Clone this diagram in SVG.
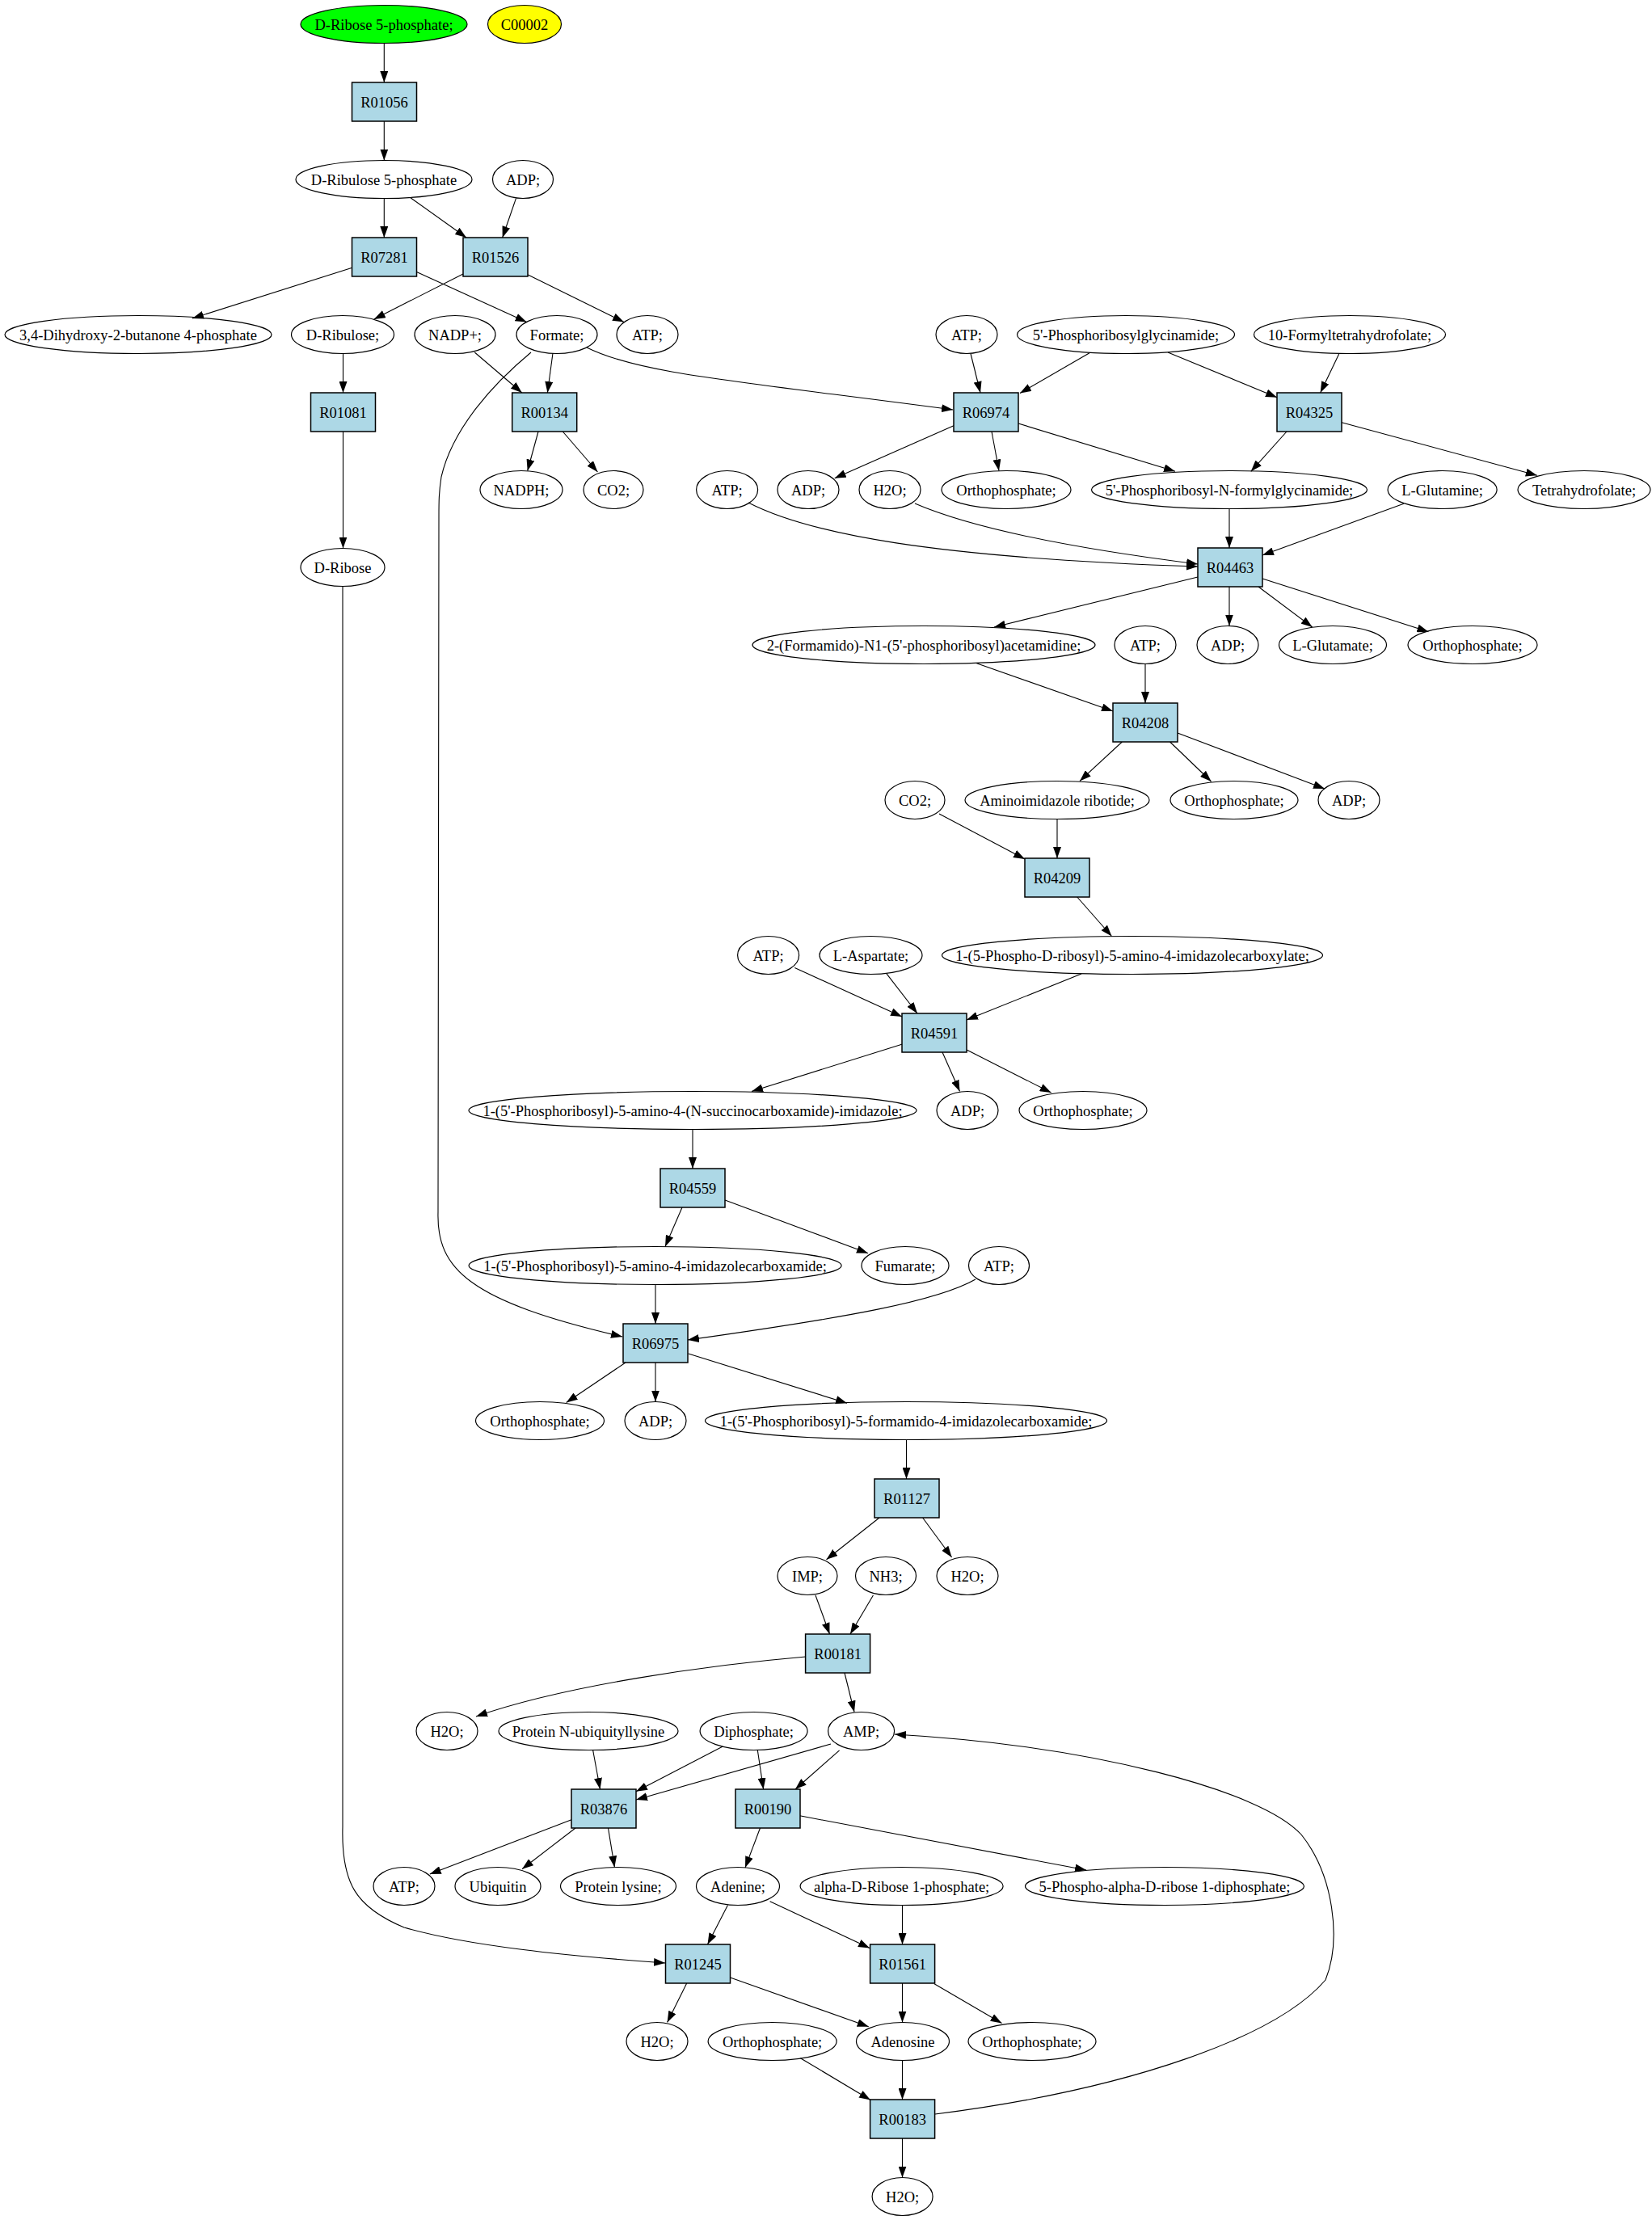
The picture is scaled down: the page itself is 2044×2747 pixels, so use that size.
<svg xmlns="http://www.w3.org/2000/svg" width="2044" height="2747" viewBox="0 0 2044 2747">
<style>
.e{fill:none;stroke:#000;stroke-width:1.2}
.r{fill:#add8e6;stroke:#000;stroke-width:1.5}
.t{font-family:"Liberation Serif","Times New Roman",serif;font-size:18.5px;text-anchor:middle;fill:#000}
.c path{fill:none;stroke:#000;stroke-width:1.1;marker-end:url(#ah)}
</style>
<defs>
<marker id="ah" markerUnits="userSpaceOnUse" markerWidth="14" markerHeight="10" viewBox="0 0 14 10" refX="14" refY="5" orient="auto">
<path d="M0,0 L14,5 L0,10 z" fill="#000"/>
</marker>
</defs>
<rect width="2044" height="2747" fill="#fff"/>
<g class="c" id="connectors">
<path d="M475.3,53.5 L475.3,102"/>
<path d="M475.3,150 L475.3,198.5"/>
<path d="M475.3,245.5 L475.3,294"/>
<path d="M508,244.7 L577,294"/>
<path d="M638.4,245.6 L621.7,294"/>
<path d="M435,331.5 L238,394"/>
<path d="M515.5,336.5 L651.6,398.5"/>
<path d="M573,339 L462.7,395"/>
<path d="M652.7,339.8 L772,398.5"/>
<path d="M424.5,437.5 L424.5,486"/>
<path d="M424.5,534 L424.5,678.5"/>
<path d="M587.3,436 L645.8,486"/>
<path d="M684,437 L677.4,486"/>
<path d="M726,430 C790,462 900,470 1179,507"/>
<path d="M657,436 C610,475 560,530 546,590 C543,610 543,620 543,640 L542,1500 C540,1570 580,1610 770,1654"/>
<path d="M666,534 L652.7,582.5"/>
<path d="M696.3,534 L739.4,584"/>
<path d="M1201,437.5 L1213,486"/>
<path d="M1348,436.7 L1262,486.5"/>
<path d="M1445,436 L1580,491.7"/>
<path d="M1656.7,438 L1633.7,486"/>
<path d="M1180,526.7 L1032.7,591.7"/>
<path d="M1227,534 L1236,582.5"/>
<path d="M1260,524 L1454,583.3"/>
<path d="M1592,534 L1547.8,583.3"/>
<path d="M1660,522.7 L1901.8,588.3"/>
<path d="M926,622 C1000,660 1150,690 1482,701"/>
<path d="M1132,623 C1190,648 1300,675 1482,698"/>
<path d="M1521,629.5 L1521,678"/>
<path d="M1736.8,623.3 L1562,687"/>
<path d="M1482,714 L1230,776"/>
<path d="M1521,726 L1521,774.5"/>
<path d="M1557,726 L1623.7,776"/>
<path d="M1562,716 L1767.4,781.7"/>
<path d="M1208.4,820.7 L1377,880"/>
<path d="M1417,821.5 L1417,870"/>
<path d="M1388.3,918 L1336,966.4"/>
<path d="M1447.6,918 L1498.6,967"/>
<path d="M1457,907 L1639,976"/>
<path d="M1162,1007 L1268,1063"/>
<path d="M1308,1013.5 L1308,1062"/>
<path d="M1332.8,1110 L1375.5,1158.5"/>
<path d="M983.3,1197.5 L1116,1258"/>
<path d="M1096.8,1204.6 L1135,1254"/>
<path d="M1338,1205 L1196,1262"/>
<path d="M1116.6,1292 L930,1350.5"/>
<path d="M1166,1302 L1187.5,1350.5"/>
<path d="M1196,1299 L1300.6,1352"/>
<path d="M857,1397.5 L857,1446"/>
<path d="M844,1494 L823,1542.5"/>
<path d="M897,1485 L1074,1550.7"/>
<path d="M811,1589.5 L811,1638"/>
<path d="M1207,1583 C1160,1610 1050,1630 851,1658"/>
<path d="M774,1686 L700.7,1735.5"/>
<path d="M811,1686 L811,1734.5"/>
<path d="M851.7,1675 L1048,1736.3"/>
<path d="M1121.5,1781.5 L1121.5,1830"/>
<path d="M1088,1878 L1022.5,1929.7"/>
<path d="M1141.6,1878 L1177.6,1927"/>
<path d="M1009,1974 L1026.5,2022"/>
<path d="M1080.4,1974 L1052,2022"/>
<path d="M997,2050 C880,2060 700,2085 589,2124"/>
<path d="M1045,2070 L1057,2118.5"/>
<path d="M733.6,2165.5 L742.5,2214"/>
<path d="M894.3,2161 L787,2216.7"/>
<path d="M1028,2158 L787,2227"/>
<path d="M937.3,2165.5 L944.6,2214"/>
<path d="M1038.6,2165.8 L984,2214"/>
<path d="M707,2251.7 L531.8,2319"/>
<path d="M712,2262 L646,2312.7"/>
<path d="M752.5,2262 L760.4,2310.5"/>
<path d="M940.5,2262 L922,2311"/>
<path d="M989.6,2246.8 L1344,2314"/>
<path d="M900.4,2357.5 L875.5,2406"/>
<path d="M952.6,2352.7 L1076,2410.5"/>
<path d="M1116.5,2357.5 L1116.5,2406"/>
<path d="M424,725.5 L424,2260 C422,2330 440,2360 500,2385 C580,2408 700,2420 823,2429"/>
<path d="M849.7,2454 L825.6,2502.5"/>
<path d="M902.8,2446.7 L1074.7,2507.8"/>
<path d="M1116.5,2454 L1116.5,2502.5"/>
<path d="M1156,2454.8 L1239.5,2503.5"/>
<path d="M990.4,2546.7 L1077,2598.5"/>
<path d="M1116.5,2549.5 L1116.5,2598"/>
<path d="M1116.5,2646 L1116.5,2694.5"/>
<path d="M1157,2616 C1400,2585 1580,2520 1640,2450 C1660,2400 1650,2320 1610,2270 C1560,2215 1350,2160 1107,2146"/>
</g>
<g id="n_rib5p"><ellipse cx="475" cy="30" rx="103" ry="23.5" fill="#00ff00" stroke="#000" stroke-width="1.2"/><text class="t" x="475" y="36.5">D-Ribose 5-phosphate;</text></g>
<g id="n_c00002"><ellipse cx="649" cy="30" rx="45.5" ry="23.5" fill="#ffff00" stroke="#000" stroke-width="1.2"/><text class="t" x="649" y="36.5">C00002</text></g>
<g id="R01056"><rect class="r" x="435.5" y="102" width="80" height="48"/><text class="t" x="475.5" y="132.5">R01056</text></g>
<g id="n_ru5p"><ellipse class="e" cx="475" cy="222" rx="109" ry="23.5"/><text class="t" x="475" y="228.5">D-Ribulose 5-phosphate</text></g>
<g id="n_adp1"><ellipse class="e" cx="647" cy="222" rx="37.5" ry="23.5"/><text class="t" x="647" y="228.5">ADP;</text></g>
<g id="R07281"><rect class="r" x="435.5" y="294" width="80" height="48"/><text class="t" x="475.5" y="324.5">R07281</text></g>
<g id="R01526"><rect class="r" x="573" y="294" width="80" height="48"/><text class="t" x="613" y="324.5">R01526</text></g>
<g id="n_dhbp"><ellipse class="e" cx="171" cy="414" rx="165" ry="23.5"/><text class="t" x="171" y="420.5">3,4-Dihydroxy-2-butanone 4-phosphate</text></g>
<g id="n_ribulose"><ellipse class="e" cx="424" cy="414" rx="63.5" ry="23.5"/><text class="t" x="424" y="420.5">D-Ribulose;</text></g>
<g id="n_nadp"><ellipse class="e" cx="563" cy="414" rx="50" ry="23.5"/><text class="t" x="563" y="420.5">NADP+;</text></g>
<g id="n_formate"><ellipse class="e" cx="689" cy="414" rx="50" ry="23.5"/><text class="t" x="689" y="420.5">Formate;</text></g>
<g id="n_atp1"><ellipse class="e" cx="801" cy="414" rx="38" ry="23.5"/><text class="t" x="801" y="420.5">ATP;</text></g>
<g id="n_atp2"><ellipse class="e" cx="1196" cy="414" rx="38" ry="23.5"/><text class="t" x="1196" y="420.5">ATP;</text></g>
<g id="n_gar"><ellipse class="e" cx="1393" cy="414" rx="134.5" ry="23.5"/><text class="t" x="1393" y="420.5">5'-Phosphoribosylglycinamide;</text></g>
<g id="n_10fthf"><ellipse class="e" cx="1670" cy="414" rx="118.5" ry="23.5"/><text class="t" x="1670" y="420.5">10-Formyltetrahydrofolate;</text></g>
<g id="R01081"><rect class="r" x="384.5" y="486" width="80" height="48"/><text class="t" x="424.5" y="516.5">R01081</text></g>
<g id="R00134"><rect class="r" x="633.7" y="486" width="80" height="48"/><text class="t" x="673.7" y="516.5">R00134</text></g>
<g id="R06974"><rect class="r" x="1180" y="486" width="80" height="48"/><text class="t" x="1220" y="516.5">R06974</text></g>
<g id="R04325"><rect class="r" x="1580" y="486" width="80" height="48"/><text class="t" x="1620" y="516.5">R04325</text></g>
<g id="n_nadph"><ellipse class="e" cx="645" cy="606" rx="51" ry="23.5"/><text class="t" x="645" y="612.5">NADPH;</text></g>
<g id="n_co2a"><ellipse class="e" cx="759" cy="606" rx="37" ry="23.5"/><text class="t" x="759" y="612.5">CO2;</text></g>
<g id="n_atp3"><ellipse class="e" cx="899.6" cy="606" rx="38" ry="23.5"/><text class="t" x="899.6" y="612.5">ATP;</text></g>
<g id="n_adp2"><ellipse class="e" cx="1000" cy="606" rx="38" ry="23.5"/><text class="t" x="1000" y="612.5">ADP;</text></g>
<g id="n_h2o1"><ellipse class="e" cx="1101" cy="606" rx="38" ry="23.5"/><text class="t" x="1101" y="612.5">H2O;</text></g>
<g id="n_pi1"><ellipse class="e" cx="1245" cy="606" rx="80" ry="23.5"/><text class="t" x="1245" y="612.5">Orthophosphate;</text></g>
<g id="n_fgar"><ellipse class="e" cx="1521" cy="606" rx="170.5" ry="23.5"/><text class="t" x="1521" y="612.5">5'-Phosphoribosyl-N-formylglycinamide;</text></g>
<g id="n_gln"><ellipse class="e" cx="1784.6" cy="606" rx="67.5" ry="23.5"/><text class="t" x="1784.6" y="612.5">L-Glutamine;</text></g>
<g id="n_thf"><ellipse class="e" cx="1960" cy="606" rx="82" ry="23.5"/><text class="t" x="1960" y="612.5">Tetrahydrofolate;</text></g>
<g id="n_ribose"><ellipse class="e" cx="424" cy="702" rx="52" ry="23.5"/><text class="t" x="424" y="708.5">D-Ribose</text></g>
<g id="R04463"><rect class="r" x="1482" y="678" width="80" height="48"/><text class="t" x="1522" y="708.5">R04463</text></g>
<g id="n_fgam"><ellipse class="e" cx="1143" cy="798" rx="212" ry="23.5"/><text class="t" x="1143" y="804.5">2-(Formamido)-N1-(5'-phosphoribosyl)acetamidine;</text></g>
<g id="n_atp4"><ellipse class="e" cx="1417" cy="798" rx="38" ry="23.5"/><text class="t" x="1417" y="804.5">ATP;</text></g>
<g id="n_adp3"><ellipse class="e" cx="1519" cy="798" rx="38" ry="23.5"/><text class="t" x="1519" y="804.5">ADP;</text></g>
<g id="n_glu"><ellipse class="e" cx="1649" cy="798" rx="66.5" ry="23.5"/><text class="t" x="1649" y="804.5">L-Glutamate;</text></g>
<g id="n_pi2"><ellipse class="e" cx="1822" cy="798" rx="80" ry="23.5"/><text class="t" x="1822" y="804.5">Orthophosphate;</text></g>
<g id="R04208"><rect class="r" x="1377" y="870" width="80" height="48"/><text class="t" x="1417" y="900.5">R04208</text></g>
<g id="n_co2b"><ellipse class="e" cx="1132" cy="990" rx="37" ry="23.5"/><text class="t" x="1132" y="996.5">CO2;</text></g>
<g id="n_air"><ellipse class="e" cx="1308" cy="990" rx="114" ry="23.5"/><text class="t" x="1308" y="996.5">Aminoimidazole ribotide;</text></g>
<g id="n_pi3"><ellipse class="e" cx="1527" cy="990" rx="79" ry="23.5"/><text class="t" x="1527" y="996.5">Orthophosphate;</text></g>
<g id="n_adp4"><ellipse class="e" cx="1669" cy="990" rx="38" ry="23.5"/><text class="t" x="1669" y="996.5">ADP;</text></g>
<g id="R04209"><rect class="r" x="1268" y="1062" width="80" height="48"/><text class="t" x="1308" y="1092.5">R04209</text></g>
<g id="n_atp5"><ellipse class="e" cx="950.6" cy="1182" rx="38" ry="23.5"/><text class="t" x="950.6" y="1188.5">ATP;</text></g>
<g id="n_asp"><ellipse class="e" cx="1077.5" cy="1182" rx="63.5" ry="23.5"/><text class="t" x="1077.5" y="1188.5">L-Aspartate;</text></g>
<g id="n_cair"><ellipse class="e" cx="1401" cy="1182" rx="235.5" ry="23.5"/><text class="t" x="1401" y="1188.5">1-(5-Phospho-D-ribosyl)-5-amino-4-imidazolecarboxylate;</text></g>
<g id="R04591"><rect class="r" x="1116" y="1254" width="80" height="48"/><text class="t" x="1156" y="1284.5">R04591</text></g>
<g id="n_saicar"><ellipse class="e" cx="857" cy="1374" rx="277" ry="23.5"/><text class="t" x="857" y="1380.5">1-(5'-Phosphoribosyl)-5-amino-4-(N-succinocarboxamide)-imidazole;</text></g>
<g id="n_adp5"><ellipse class="e" cx="1197" cy="1374" rx="38" ry="23.5"/><text class="t" x="1197" y="1380.5">ADP;</text></g>
<g id="n_pi4"><ellipse class="e" cx="1340" cy="1374" rx="79" ry="23.5"/><text class="t" x="1340" y="1380.5">Orthophosphate;</text></g>
<g id="R04559"><rect class="r" x="817" y="1446" width="80" height="48"/><text class="t" x="857" y="1476.5">R04559</text></g>
<g id="n_aicar"><ellipse class="e" cx="810.6" cy="1566" rx="230.5" ry="23.5"/><text class="t" x="810.6" y="1572.5">1-(5'-Phosphoribosyl)-5-amino-4-imidazolecarboxamide;</text></g>
<g id="n_fum"><ellipse class="e" cx="1120" cy="1566" rx="54" ry="23.5"/><text class="t" x="1120" y="1572.5">Fumarate;</text></g>
<g id="n_atp6"><ellipse class="e" cx="1236" cy="1566" rx="37.5" ry="23.5"/><text class="t" x="1236" y="1572.5">ATP;</text></g>
<g id="R06975"><rect class="r" x="771" y="1638" width="80" height="48"/><text class="t" x="811" y="1668.5">R06975</text></g>
<g id="n_pi5"><ellipse class="e" cx="668" cy="1758" rx="79.5" ry="23.5"/><text class="t" x="668" y="1764.5">Orthophosphate;</text></g>
<g id="n_adp6"><ellipse class="e" cx="811" cy="1758" rx="38" ry="23.5"/><text class="t" x="811" y="1764.5">ADP;</text></g>
<g id="n_faicar"><ellipse class="e" cx="1121" cy="1758" rx="248.5" ry="23.5"/><text class="t" x="1121" y="1764.5">1-(5'-Phosphoribosyl)-5-formamido-4-imidazolecarboxamide;</text></g>
<g id="R01127"><rect class="r" x="1082" y="1830" width="80" height="48"/><text class="t" x="1122" y="1860.5">R01127</text></g>
<g id="n_imp"><ellipse class="e" cx="999" cy="1950" rx="37" ry="23.5"/><text class="t" x="999" y="1956.5">IMP;</text></g>
<g id="n_nh3"><ellipse class="e" cx="1096" cy="1950" rx="37.5" ry="23.5"/><text class="t" x="1096" y="1956.5">NH3;</text></g>
<g id="n_h2o2"><ellipse class="e" cx="1197" cy="1950" rx="38" ry="23.5"/><text class="t" x="1197" y="1956.5">H2O;</text></g>
<g id="R00181"><rect class="r" x="996.6" y="2022" width="80" height="48"/><text class="t" x="1036.6" y="2052.5">R00181</text></g>
<g id="n_h2o3"><ellipse class="e" cx="553" cy="2142" rx="38" ry="23.5"/><text class="t" x="553" y="2148.5">H2O;</text></g>
<g id="n_pnub"><ellipse class="e" cx="728" cy="2142" rx="111" ry="23.5"/><text class="t" x="728" y="2148.5">Protein N-ubiquityllysine</text></g>
<g id="n_ppi"><ellipse class="e" cx="932.6" cy="2142" rx="66.5" ry="23.5"/><text class="t" x="932.6" y="2148.5">Diphosphate;</text></g>
<g id="n_amp"><ellipse class="e" cx="1065.6" cy="2142" rx="41" ry="23.5"/><text class="t" x="1065.6" y="2148.5">AMP;</text></g>
<g id="R03876"><rect class="r" x="707" y="2214" width="80" height="48"/><text class="t" x="747" y="2244.5">R03876</text></g>
<g id="R00190"><rect class="r" x="910" y="2214" width="80" height="48"/><text class="t" x="950" y="2244.5">R00190</text></g>
<g id="n_atp7"><ellipse class="e" cx="500" cy="2334" rx="38" ry="23.5"/><text class="t" x="500" y="2340.5">ATP;</text></g>
<g id="n_ubq"><ellipse class="e" cx="616" cy="2334" rx="53" ry="23.5"/><text class="t" x="616" y="2340.5">Ubiquitin</text></g>
<g id="n_plys"><ellipse class="e" cx="765" cy="2334" rx="71.5" ry="23.5"/><text class="t" x="765" y="2340.5">Protein lysine;</text></g>
<g id="n_ade"><ellipse class="e" cx="913" cy="2334" rx="51.5" ry="23.5"/><text class="t" x="913" y="2340.5">Adenine;</text></g>
<g id="n_r1p"><ellipse class="e" cx="1115.6" cy="2334" rx="125.5" ry="23.5"/><text class="t" x="1115.6" y="2340.5">alpha-D-Ribose 1-phosphate;</text></g>
<g id="n_prpp"><ellipse class="e" cx="1441" cy="2334" rx="172.5" ry="23.5"/><text class="t" x="1441" y="2340.5">5-Phospho-alpha-D-ribose 1-diphosphate;</text></g>
<g id="R01245"><rect class="r" x="823.5" y="2406" width="80" height="48"/><text class="t" x="863.5" y="2436.5">R01245</text></g>
<g id="R01561"><rect class="r" x="1076.6" y="2406" width="80" height="48"/><text class="t" x="1116.6" y="2436.5">R01561</text></g>
<g id="n_h2o4"><ellipse class="e" cx="813" cy="2526" rx="38" ry="23.5"/><text class="t" x="813" y="2532.5">H2O;</text></g>
<g id="n_pi6"><ellipse class="e" cx="955.6" cy="2526" rx="79.5" ry="23.5"/><text class="t" x="955.6" y="2532.5">Orthophosphate;</text></g>
<g id="n_ado"><ellipse class="e" cx="1117" cy="2526" rx="57.5" ry="23.5"/><text class="t" x="1117" y="2532.5">Adenosine</text></g>
<g id="n_pi7"><ellipse class="e" cx="1277" cy="2526" rx="79" ry="23.5"/><text class="t" x="1277" y="2532.5">Orthophosphate;</text></g>
<g id="R00183"><rect class="r" x="1076.6" y="2598" width="80" height="48"/><text class="t" x="1116.6" y="2628.5">R00183</text></g>
<g id="n_h2o5"><ellipse class="e" cx="1116.6" cy="2718" rx="37.5" ry="23.5"/><text class="t" x="1116.6" y="2724.5">H2O;</text></g>
</svg>
